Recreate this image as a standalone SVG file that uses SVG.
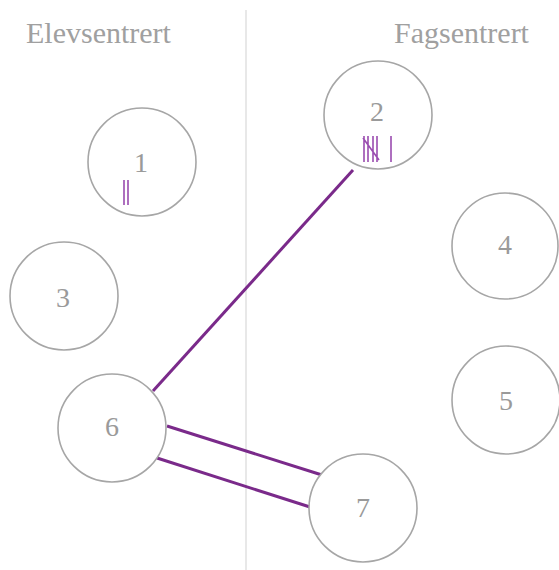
<svg xmlns="http://www.w3.org/2000/svg" width="559" height="570" viewBox="0 0 559 570">
<style>
.node circle{fill:#fff;stroke:#a6a6a6;stroke-width:1.6}
.lbl{font-family:"Liberation Serif",serif;font-size:28px;fill:#9a9a9a;text-anchor:middle;dominant-baseline:central}
.title{font-family:"Liberation Serif",serif;font-size:30px;fill:#a0a0a0}
.edge{stroke:#7a2a8a;stroke-width:3;fill:none}
.tally{stroke:#9a4cb0;stroke-width:1.6;fill:none}
</style>
<rect width="559" height="570" fill="#fff"/>
<line x1="246" y1="10" x2="246" y2="570" stroke="#e0e0e0" stroke-width="1.5"/>
<text class="title" x="26" y="43">Elevsentrert</text>
<text class="title" x="394" y="43">Fagsentrert</text>
<g id="connectors">
<line class="edge" x1="353" y1="170" x2="153" y2="391"/>
<line class="edge" x1="167" y1="426" x2="322" y2="475"/>
<line class="edge" x1="157" y1="458" x2="310" y2="507"/>
</g>
<g id="node1" class="node"><circle cx="142" cy="162" r="54"/><text class="lbl" x="141" y="162">1</text>
<path class="tally" d="M124 180V205M128 180V205"/></g>
<g id="node2" class="node"><circle cx="378" cy="115" r="54"/><text class="lbl" x="377" y="111">2</text>
<path class="tally" d="M364 136V162M368 136V162M373 136V162M377 136V162M363 138L379 160M391 136V162"/></g>
<g id="node3" class="node"><circle cx="64" cy="296" r="54"/><text class="lbl" x="63" y="297">3</text></g>
<g id="node4" class="node"><circle cx="505" cy="246" r="53"/><text class="lbl" x="505" y="244">4</text></g>
<g id="node5" class="node"><circle cx="506" cy="400" r="54"/><text class="lbl" x="506" y="400">5</text></g>
<g id="node6" class="node"><circle cx="112" cy="428" r="54"/><text class="lbl" x="112" y="426">6</text></g>
<g id="node7" class="node"><circle cx="363" cy="508" r="54"/><text class="lbl" x="363" y="507">7</text></g>
</svg>
